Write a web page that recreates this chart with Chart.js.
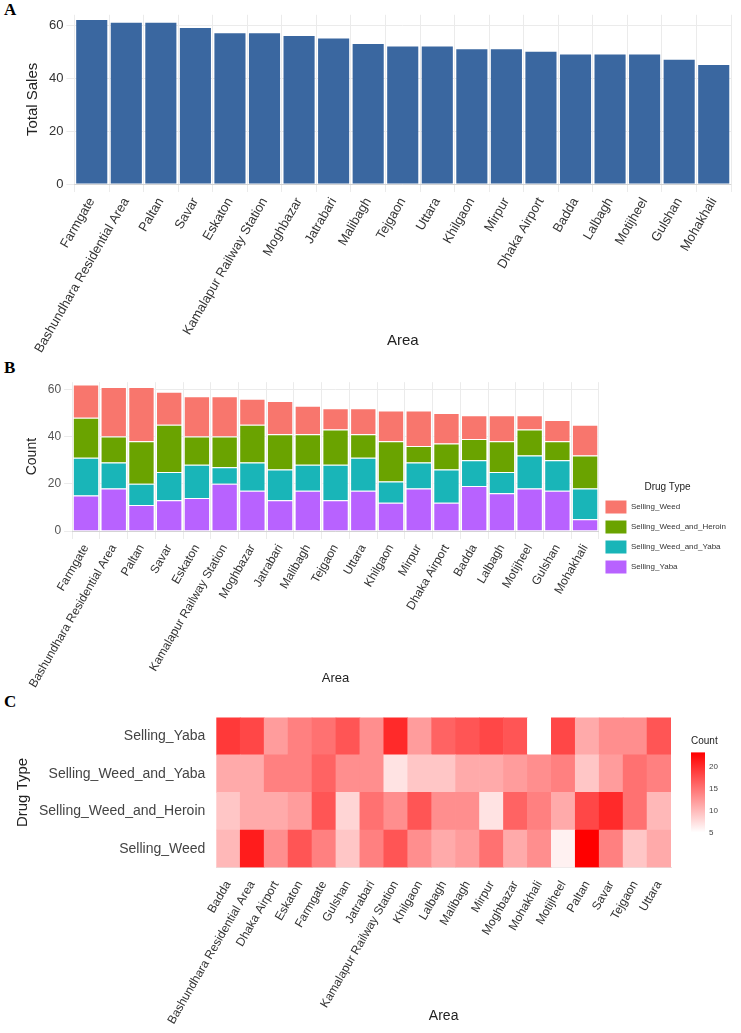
<!DOCTYPE html>
<html><head><meta charset="utf-8">
<script src="https://cdn.jsdelivr.net/npm/chart.js@4"></script>
<style>
body{margin:0;background:#fff;width:741px;height:1033px;position:relative;overflow:hidden;font-family:"Liberation Sans",Arial,sans-serif}
.lbl{position:absolute;left:4px;font:bold 17px "Liberation Serif",serif}
.box{position:absolute;left:0;width:741px}
</style></head><body>
<div class="lbl" style="top:0">A</div>
<div class="lbl" style="top:358px">B</div>
<div class="lbl" style="top:692px">C</div>
<div class="box" style="top:4px;height:350px"><canvas id="a"></canvas></div>
<div class="box" style="top:372px;height:318px"><canvas id="b"></canvas></div>
<div class="box" style="top:706px;height:327px"><canvas id="c"></canvas></div>
<script>
// areas ordered by total sales
const areas = ['Farmgate','Bashundhara Residential Area','Paltan','Savar','Eskaton','Kamalapur Railway Station','Moghbazar','Jatrabari','Malibagh','Tejgaon','Uttara','Khilgaon','Mirpur','Dhaka Airport','Badda','Lalbagh','Motijheel','Gulshan','Mohakhali'];
const yaba       = [15,18,11,13,14,20,17,13,17,13,17,12,18,12,19,16,18,17,5];
const weedYaba   = [16,11,9,12,14,7,12,13,11,15,14,9,11,14,11,9,14,13,13];
const weedHeroin = [17,11,18,20,12,13,16,15,13,15,10,17,7,11,9,13,11,8,14];
const weed       = [14,21,23,14,17,17,11,14,12,9,11,13,15,13,10,11,6,9,13];
const drugTypes = ['Selling_Weed','Selling_Weed_and_Heroin','Selling_Weed_and_Yaba','Selling_Yaba'];
const drugColors = ['#F8766D','#6aa300','#19b5b8','#b862ff'];
const yTicks = [0,20,40,60];
const totals = areas.map((a,i)=>yaba[i]+weedYaba[i]+weedHeroin[i]+weed[i]);

Chart.defaults.font.family = '"Liberation Sans",Arial,sans-serif';
Chart.defaults.color = '#4d4d4d';
const grid = {color:'#ebebeb'};
const xTicks = {maxRotation:60,minRotation:60,autoSkip:false,font:{size:13},color:'#333'};
const fixTicks = ax=>{ax.ticks=yTicks.map(v=>({value:v}));};

new Chart(document.getElementById('a'),{
  type:'bar',
  data:{labels:areas,datasets:[{data:totals,backgroundColor:'#3a67a0',barPercentage:0.9,categoryPercentage:1}]},
  options:{responsive:true,maintainAspectRatio:false,animation:false,
    layout:{padding:{left:20,right:10,top:10}},
    plugins:{legend:{display:false}},
    scales:{
      x:{grid:grid,ticks:xTicks,title:{display:true,text:'Area',font:{size:15},color:'#222'}},
      y:{min:0,max:64,grid:grid,border:{display:false},afterBuildTicks:fixTicks,ticks:{font:{size:13},color:'#333'},
         title:{display:true,text:'Total Sales',font:{size:15},color:'#222'}}
    }}
});

const stackSets = [
  {label:'Selling_Yaba',data:yaba,backgroundColor:drugColors[3]},
  {label:'Selling_Weed_and_Yaba',data:weedYaba,backgroundColor:drugColors[2]},
  {label:'Selling_Weed_and_Heroin',data:weedHeroin,backgroundColor:drugColors[1]},
  {label:'Selling_Weed',data:weed,backgroundColor:drugColors[0]}
].map(d=>Object.assign(d,{borderColor:'#fff',borderWidth:1,barPercentage:0.95,categoryPercentage:1}));

new Chart(document.getElementById('b'),{
  type:'bar',
  data:{labels:areas,datasets:stackSets},
  options:{responsive:true,maintainAspectRatio:false,animation:false,
    layout:{padding:{left:20,right:5}},
    plugins:{legend:{position:'right',reverse:true,
      title:{display:true,text:'Drug Type',font:{size:10},color:'#222'},
      labels:{boxWidth:22,boxHeight:14,padding:6,font:{size:8},color:'#333'}}},
    scales:{
      x:{stacked:true,grid:grid,ticks:Object.assign({},xTicks,{font:{size:12}}),title:{display:true,text:'Area',font:{size:13},color:'#222'}},
      y:{stacked:true,min:0,max:63,grid:grid,border:{display:false},afterBuildTicks:fixTicks,ticks:{font:{size:12},color:'#555'},
         title:{display:true,text:'Count',font:{size:14},color:'#222'}}
    }}
});

// heatmap, alphabetical areas
const hmAreas = areas.slice().sort();
const rows = [weed,weedHeroin,weedYaba,yaba];
const cMin = 5, cMax = 23;
function heat(v){
  const t = Math.max(0,Math.min(1,(v-cMin)/(cMax-cMin)));
  const g = Math.round(255*(1-t)), b = Math.round(255*(1-t));
  return `rgb(255,${g},${b})`;
}
const heatSets = rows.map((r,i)=>({
  label:drugTypes[i],
  data:hmAreas.map(a=>[i,i+1]),
  backgroundColor:hmAreas.map(a=>heat(r[areas.indexOf(a)])),
  barPercentage:1,categoryPercentage:1,grouped:false
}));
const colorBar = {
  id:'colorBar',
  afterDraw(ch){
    const c = ch.ctx, x = ch.chartArea.right+20, top = ch.chartArea.top+35, h = 80, w = 14;
    const gr = c.createLinearGradient(0,top+h,0,top);
    gr.addColorStop(0,heat(cMin)); gr.addColorStop(1,heat(cMax));
    c.fillStyle = gr; c.fillRect(x,top,w,h);
    c.fillStyle = '#222'; c.font = '10px "Liberation Sans"'; c.fillText('Count',x,top-8);
    c.font = '8px "Liberation Sans"'; c.fillStyle = '#444';
    [5,10,15,20].forEach(v=>{const y=top+h-(v-cMin)/(cMax-cMin)*h; c.fillText(v,x+w+4,y+3);});
  }
};
new Chart(document.getElementById('c'),{
  type:'bar',
  data:{labels:hmAreas,datasets:heatSets},
  plugins:[colorBar],
  options:{responsive:true,maintainAspectRatio:false,animation:false,
    layout:{padding:{left:10,right:70,bottom:4}},
    plugins:{legend:{display:false},tooltip:{enabled:false}},
    scales:{
      x:{grid:{display:false},ticks:Object.assign({},xTicks,{font:{size:12}}),title:{display:true,text:'Area',font:{size:14},color:'#222'}},
      y:{min:0,max:4,grid:{display:false},border:{display:false},
         afterBuildTicks:ax=>{ax.ticks=[0.5,1.5,2.5,3.5].map(v=>({value:v}));},
         ticks:{font:{size:14},color:'#444',callback:v=>drugTypes[Math.floor(v)]},
         title:{display:true,text:'Drug Type',font:{size:15},color:'#222'}}
    }}
});
</script>
</body></html>
